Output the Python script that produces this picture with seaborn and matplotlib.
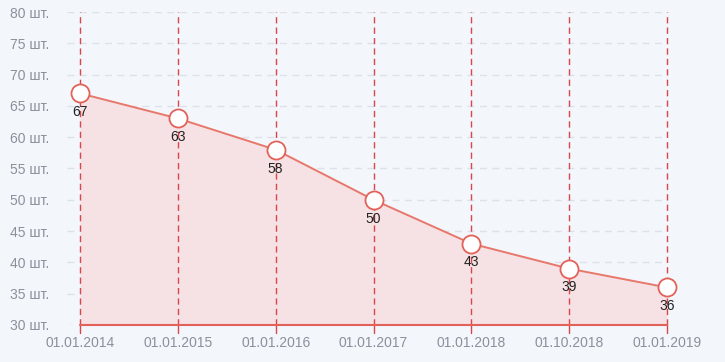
import matplotlib
matplotlib.use("Agg")
import matplotlib.pyplot as plt
import seaborn as sns
import pandas as pd

dates = ["01.01.2014", "01.01.2015", "01.01.2016", "01.01.2017", "01.01.2018", "01.10.2018", "01.01.2019"]
values = [67, 63, 58, 50, 43, 39, 36]
yticks = [30, 35, 40, 45, 50, 55, 60, 65, 70, 75, 80]
ylabels = [f"{v} шт." for v in yticks]

sns.set_theme(style="white")
plt.rcParams['font.family'] = ['Liberation Sans', 'DejaVu Sans']

bg = "#f3f6fb"
line_c = "#e8776c"
edge_c = "#e2625a"
fill_c = "#f6e1e4"
grid_c = "#dde1e8"
vline_c = "#d9474a"
tick_c = "#8b909b"

df = pd.DataFrame({"idx": range(len(dates)), "value": values})

fig = plt.figure(figsize=(7.25, 3.62), dpi=100, facecolor=bg)
ax = fig.add_axes([67/725, 1-325/362, (667-67)/725, (325-12)/362])
ax.set_facecolor(bg)

ax.set_ylim(30, 80)
ax.set_xlim(-13/97.8, 6)

for y in yticks:
    ax.axhline(y, color=grid_c, lw=1, ls=(0, (5, 4)), zorder=0)

ax.fill_between(df["idx"], df["value"], 30, color=fill_c, zorder=1, lw=0)
for i in df["idx"]:
    ax.plot([i, i], [30, 80], color=vline_c, lw=1, ls=(0, (4.5, 3)), zorder=2, clip_on=False)
    ax.plot([i, i], [30, 28.8], color=vline_c, lw=1, zorder=2, clip_on=False)

sns.lineplot(data=df, x="idx", y="value", ax=ax, color=line_c, lw=1.4, zorder=3,
             marker="o", markersize=13, markerfacecolor="white", markeredgecolor=edge_c,
             markeredgewidth=1.3, clip_on=False)

for i, v in zip(df["idx"], df["value"]):
    ax.annotate(str(v), (i, v), xytext=(0, -8.5), textcoords="offset points",
                ha="center", va="top", fontsize=10, color="#222222", zorder=4)

ax.plot([0, 6], [30, 30], color=edge_c, lw=1.5, zorder=3, clip_on=False)

for s in ax.spines.values():
    s.set_visible(False)

ax.set_yticks(yticks)
ax.set_yticklabels(ylabels)
ax.set_xticks(list(df["idx"]))
ax.set_xticklabels(dates)
ax.tick_params(axis="both", length=0, colors=tick_c, labelsize=10)
ax.tick_params(axis="y", pad=13)
ax.tick_params(axis="x", pad=8)
ax.set_xlabel("")
ax.set_ylabel("")

fig.savefig("out.png", dpi=100, facecolor=bg)
